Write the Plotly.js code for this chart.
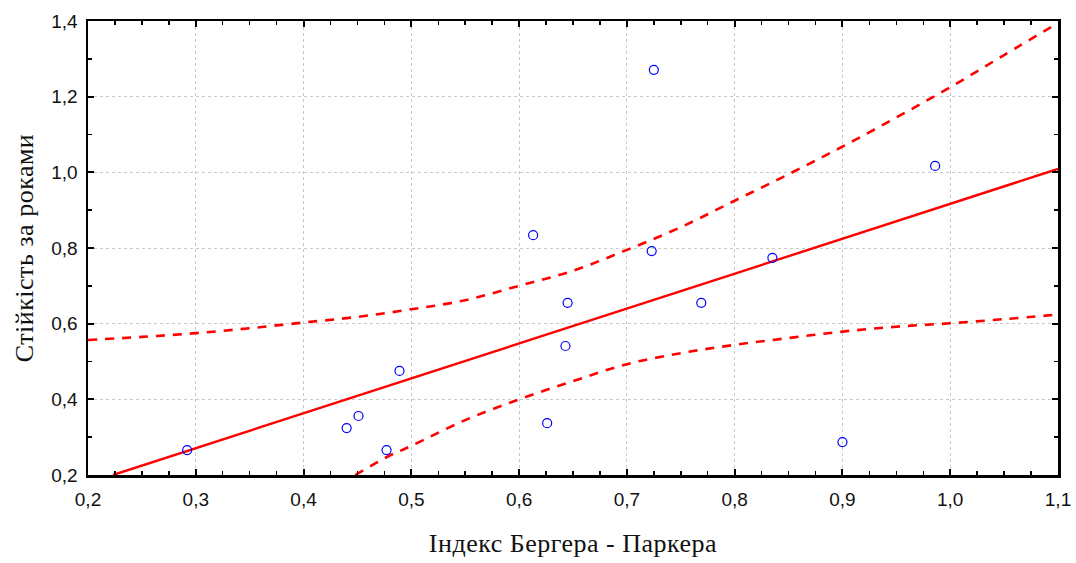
<!DOCTYPE html>
<html>
<head>
<meta charset="utf-8">
<script src="https://cdn.plot.ly/plotly-3.0.1.min.js"></script>
<style>
html,body{margin:0;padding:0;background:#fff;}
#chart{width:1076px;height:563px;}
.xtitle,.ytitle{letter-spacing:0.5px;}
</style>
</head>
<body>
<div id="chart"></div>
<script>
// Observed data: Berger-Parker index vs. stability over years
const indexBP = [0.292, 0.440, 0.451, 0.477, 0.489, 0.613, 0.626, 0.643, 0.645, 0.725, 0.723, 0.769, 0.835, 0.900, 0.986];
const stability = [0.266, 0.324, 0.356, 0.266, 0.475, 0.834, 0.337, 0.541, 0.655, 1.271, 0.792, 0.655, 0.774, 0.287, 1.017];

// Fitted regression line
const fitX = [0.2232, 1.1];
const fitY = [0.2, 1.009];

// Upper confidence band
const upperX = [0.2, 0.25, 0.3, 0.35, 0.4, 0.45, 0.5, 0.55, 0.6, 0.65, 0.7, 0.75, 0.8, 0.85, 0.9, 0.95, 1.0, 1.05, 1.1];
const upperY = [0.557, 0.565, 0.575, 0.588, 0.603, 0.618, 0.638, 0.662, 0.700, 0.740, 0.795, 0.855, 0.925, 0.995, 1.068, 1.145, 1.225, 1.31, 1.395];

// Lower confidence band
const lowerX = [0.448, 0.477, 0.5, 0.55, 0.6, 0.65, 0.7, 0.75, 0.8, 0.85, 0.9, 0.95, 1.0, 1.05, 1.1];
const lowerY = [0.2, 0.247, 0.277, 0.345, 0.400, 0.448, 0.493, 0.522, 0.544, 0.562, 0.579, 0.592, 0.601, 0.612, 0.624];

const xTitle = 'Індекс Бергера - Паркера';
const yTitle = 'Стійкість за роками';

const traces = [
  {x: upperX, y: upperY, mode: 'lines', line: {color: '#ff0000', width: 2.6, dash: '9px,8px', shape: 'spline'}, hoverinfo: 'skip'},
  {x: lowerX, y: lowerY, mode: 'lines', line: {color: '#ff0000', width: 2.6, dash: '9px,8px', shape: 'spline'}, hoverinfo: 'skip'},
  {x: fitX, y: fitY, mode: 'lines', line: {color: '#ff0000', width: 2.4}},
  {x: indexBP, y: stability, mode: 'markers', marker: {symbol: 'circle-open', size: 9, color: '#0000ff', line: {width: 1.2, color: '#0000ff'}}}
];

const axisCommon = {
  showline: true, linecolor: '#000', linewidth: 2.5, mirror: 'allticks',
  ticks: 'inside', ticklen: 6, tickwidth: 2, tickcolor: '#000',
  showgrid: true, gridcolor: '#c8c8c8', griddash: 'dot', gridwidth: 1,
  zeroline: false, tickformat: '.1f',
  tickfont: {family: 'Liberation Sans, Arial, sans-serif', size: 19, color: '#111'}
};

const layout = {
  width: 1076, height: 563,
  margin: {l: 88, r: 18, t: 21, b: 88},
  paper_bgcolor: '#fff', plot_bgcolor: '#fff',
  showlegend: false,
  separators: ', ',
  xaxis: Object.assign({}, axisCommon, {
    range: [0.2, 1.1], dtick: 0.1, tick0: 0.2,
    ticklabelstandoff: 6,
    minor: {dtick: 0.025, ticks: 'inside', ticklen: 4, tickwidth: 1.5, tickcolor: '#000', showgrid: false},
    title: {text: xTitle, font: {family: 'Liberation Serif, Times New Roman, serif', size: 26, color: '#111'}, standoff: 25}
  }),
  yaxis: Object.assign({}, axisCommon, {
    range: [0.2, 1.4], dtick: 0.2, tick0: 0.2,
    ticklabelstandoff: 4,
    minor: {dtick: 0.1, ticks: 'inside', ticklen: 4, tickwidth: 1.5, tickcolor: '#000', showgrid: false},
    title: {text: yTitle, font: {family: 'Liberation Serif, Times New Roman, serif', size: 26, color: '#111'}, standoff: 10}
  })
};

Plotly.newPlot('chart', traces, layout, {displayModeBar: false, staticPlot: true});
</script>
</body>
</html>
